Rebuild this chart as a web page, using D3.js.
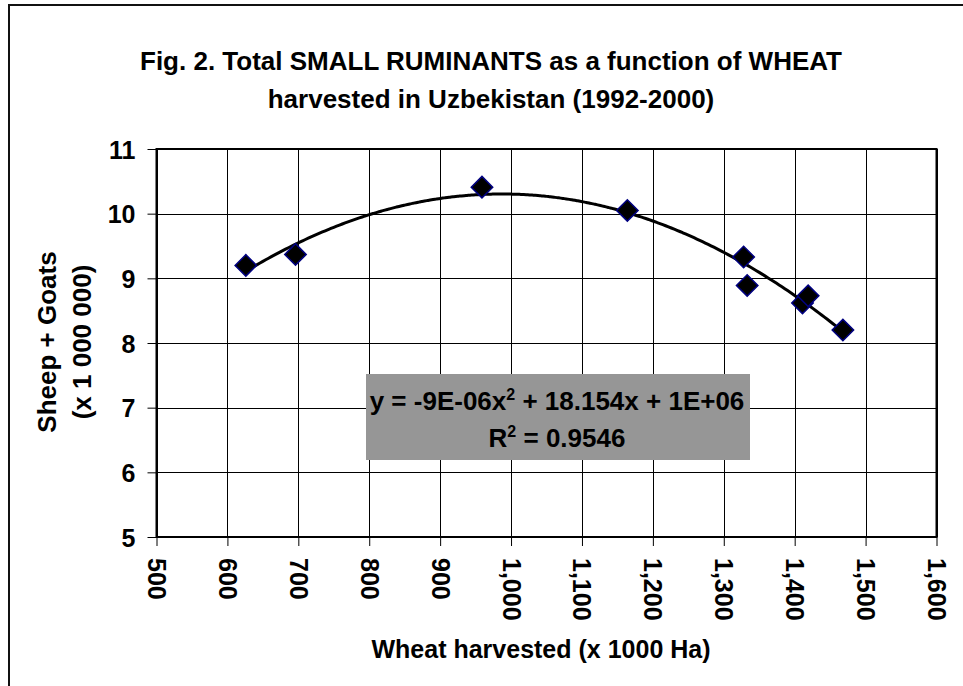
<!DOCTYPE html>
<html lang="en">
<head>
  <meta charset="UTF-8">
  <title>Small ruminants vs wheat harvested</title>
  <script src="https://d3js.org/d3.v7.min.js"></script>
  <style>
    body { margin: 0; background: #fff; }
    text { font-family: "Liberation Sans", Arial, sans-serif; font-weight: bold; fill: #000; }
    .grid line { stroke: #000; stroke-width: 1; shape-rendering: crispEdges; }
  </style>
</head>
<body>
<svg id="chart" width="963" height="686"></svg>

<script>
// wheat harvested (x 1000 ha) and sheep + goats (x 1 000 000), 1992-2000
const wheat = [626, 696, 959, 1164, 1328, 1333, 1411, 1419, 1468];
const ruminants = [9.20, 9.37, 10.41, 10.05, 9.33, 8.89, 8.62, 8.73, 8.20];

const xTicks = [500, 600, 700, 800, 900, 1000, 1100, 1200, 1300, 1400, 1500, 1600];
const yTicks = [5, 6, 7, 8, 9, 10, 11];

const titleLines = ["Fig. 2. Total SMALL RUMINANTS as a function of WHEAT",
                    "harvested in Uzbekistan (1992-2000)"];
const xTitle = "Wheat harvested (x 1000 Ha)";
const yTitleLines = ["Sheep + Goats", "(x 1 000 000)"];

const svg = d3.select("#chart");
const W = 963, H = 686;

const plot = { left: 156.5, right: 936.5, top: 149, bottom: 537 };

const x = d3.scaleLinear().domain([500, 1600]).range([plot.left, plot.right]);
const y = d3.scaleLinear().domain([5, 11]).range([plot.bottom, plot.top]);

svg.append("rect").attr("width", W).attr("height", H).attr("fill", "#fff");

// chart frame (runs off the right / bottom edge like the original)
svg.append("rect")
    .attr("x", 9).attr("y", 5)
    .attr("width", 980).attr("height", 700)
    .attr("fill", "none")
    .attr("stroke", "#111")
    .attr("stroke-width", 2);

// title
svg.append("g").selectAll("text")
  .data(titleLines)
  .enter().append("text")
    .attr("x", 491)
    .attr("y", (d, i) => 70 + i * 38)
    .attr("text-anchor", "middle")
    .style("font-size", "26px")
    .text(d => d);

// gridlines
const grid = svg.append("g").attr("class", "grid");
grid.selectAll(".v")
  .data(xTicks)
  .enter().append("line")
    .attr("x1", d => Math.round(x(d)) + 0.5).attr("x2", d => Math.round(x(d)) + 0.5)
    .attr("y1", plot.top).attr("y2", plot.bottom);
grid.selectAll(".h")
  .data(yTicks)
  .enter().append("line")
    .attr("x1", plot.left).attr("x2", plot.right)
    .attr("y1", d => Math.round(y(d)) + 0.5).attr("y2", d => Math.round(y(d)) + 0.5);

// axes
const xAxis = d3.axisBottom(x)
    .tickValues(xTicks)
    .tickSize(9)
    .tickFormat(d3.format(","));
const yAxis = d3.axisLeft(y)
    .tickValues(yTicks)
    .tickSize(9)
    .tickFormat(d3.format("d"));

const gx = svg.append("g")
    .attr("transform", `translate(0,${plot.bottom})`)
    .call(xAxis);
gx.select(".domain").remove();
gx.selectAll(".tick line").attr("stroke", "#000");
gx.selectAll(".tick text")
    .style("font-size", "25px")
    .attr("y", 0).attr("x", 0).attr("dy", null)
    .attr("text-anchor", "start")
    .attr("dominant-baseline", "central")
    .attr("transform", "translate(0,21) rotate(90)");

const gy = svg.append("g")
    .attr("transform", `translate(${plot.left},0)`)
    .call(yAxis);
gy.select(".domain").remove();
gy.selectAll(".tick line").attr("stroke", "#000");
gy.selectAll(".tick text")
    .style("font-size", "25px")
    .attr("x", -21)
    .attr("dy", "0.36em");

// plot border
svg.append("rect")
    .attr("x", plot.left).attr("y", plot.top)
    .attr("width", plot.right - plot.left)
    .attr("height", plot.bottom - plot.top)
    .attr("fill", "none")
    .attr("stroke", "#000")
    .attr("stroke-width", 2);

// axis titles
svg.append("text")
    .attr("x", 541).attr("y", 658)
    .attr("text-anchor", "middle")
    .style("font-size", "25px")
    .text(xTitle);

svg.append("g").selectAll("text")
  .data(yTitleLines)
  .enter().append("text")
    .attr("transform", (d, i) => `translate(${56 + i * 35},342) rotate(-90)`)
    .attr("text-anchor", "middle")
    .style("font-size", "26px")
    .text(d => d);

// polynomial (order 2) trendline, least squares on the points
function quadFit(xs, ys) {
  const n = xs.length;
  let s = [0, 0, 0, 0, 0], t = [0, 0, 0];
  for (let i = 0; i < n; i++) {
    const xi = xs[i], yi = ys[i];
    for (let k = 0; k <= 4; k++) s[k] += Math.pow(xi, k);
    for (let k = 0; k <= 2; k++) t[k] += yi * Math.pow(xi, k);
  }
  const A = [[s[0], s[1], s[2], t[0]],
             [s[1], s[2], s[3], t[1]],
             [s[2], s[3], s[4], t[2]]];
  for (let c = 0; c < 3; c++) {
    for (let r = c + 1; r < 3; r++) {
      const f = A[r][c] / A[c][c];
      for (let k = c; k < 4; k++) A[r][k] -= f * A[c][k];
    }
  }
  const b = [0, 0, 0];
  for (let r = 2; r >= 0; r--) {
    let v = A[r][3];
    for (let k = r + 1; k < 3; k++) v -= A[r][k] * b[k];
    b[r] = v / A[r][r];
  }
  return b;
}
const coef = quadFit(wheat, ruminants);
const xs = d3.range(d3.min(wheat), d3.max(wheat) + 1, 4);
const fitLine = d3.line()
    .x(d => x(d))
    .y(d => y(coef[0] + coef[1] * d + coef[2] * d * d))
    .curve(d3.curveBasis);

// equation label
const eq = svg.append("g");
eq.append("rect")
    .attr("x", 366).attr("y", 374)
    .attr("width", 384).attr("height", 86)
    .attr("fill", "#969696");
const l1 = eq.append("text")
    .attr("x", 557).attr("y", 410)
    .attr("text-anchor", "middle")
    .style("font-size", "26px");
l1.append("tspan").text("y = -9E-06x");
l1.append("tspan").attr("dy", -10).style("font-size", "16px").text("2");
l1.append("tspan").attr("dy", 10).text(" + 18.154x + 1E+06");
const l2 = eq.append("text")
    .attr("x", 557).attr("y", 447)
    .attr("text-anchor", "middle")
    .style("font-size", "26px");
l2.append("tspan").text("R");
l2.append("tspan").attr("dy", -10).style("font-size", "16px").text("2");
l2.append("tspan").attr("dy", 10).text(" = 0.9546");

svg.append("path")
    .datum(xs)
    .attr("d", fitLine)
    .attr("fill", "none")
    .attr("stroke", "#000")
    .attr("stroke-width", 3);

// data points (diamonds)
svg.append("g").selectAll("path")
  .data(wheat.map((w, i) => [w, ruminants[i]]))
  .enter().append("path")
    .attr("d", d3.symbol().type(d3.symbolSquare).size(230))
    .attr("transform", d => `translate(${x(d[0])},${y(d[1])}) rotate(45)`)
    .attr("fill", "#000")
    .attr("stroke", "#000080")
    .attr("stroke-width", 1.5);
</script>
</body>
</html>
